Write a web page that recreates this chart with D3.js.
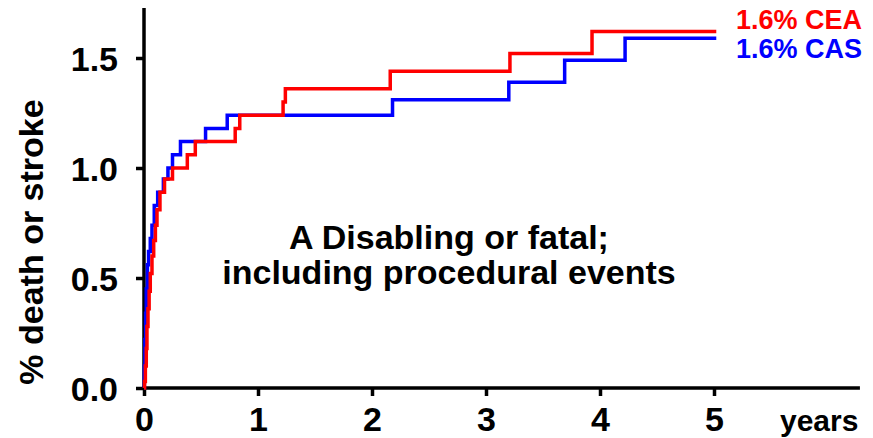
<!DOCTYPE html>
<html><head><meta charset="utf-8">
<script src="https://cdn.jsdelivr.net/npm/d3@7"></script>
<style>
body{margin:0;background:#fff;}
text{font-family:Arial,"Liberation Sans",sans-serif;font-weight:bold;}
</style></head>
<body><svg id="c" width="873" height="438"></svg>
<script>
// Data: step times (years) and cumulative % death or stroke
const ceaTimes  = [0, 0.005, 0.012, 0.02, 0.026, 0.035, 0.045, 0.055, 0.07, 0.085, 0.1, 0.114, 0.14, 0.18, 0.25, 0.38, 0.45, 0.80, 0.84, 1.22, 1.24, 2.16, 3.21, 3.93, 5.02];
const ceaValues = [0, 0.03, 0.10, 0.18, 0.28, 0.36, 0.44, 0.52, 0.60, 0.67, 0.74, 0.81, 0.89, 0.95, 1.00, 1.06, 1.12, 1.18, 1.24, 1.30, 1.36, 1.44, 1.52, 1.62, 1.62];
const casTimes  = [0, 0.003, 0.008, 0.014, 0.02, 0.03, 0.04, 0.055, 0.07, 0.09, 0.12, 0.17, 0.21, 0.25, 0.32, 0.54, 0.73, 2.18, 3.20, 3.69, 4.22, 5.02];
const casValues = [0, 0.10, 0.22, 0.34, 0.45, 0.56, 0.62, 0.68, 0.74, 0.83, 0.89, 0.95, 1.00, 1.06, 1.12, 1.18, 1.24, 1.31, 1.39, 1.49, 1.59, 1.59];
const yTicks = [0, 0.5, 1.0, 1.5];
const xTicks = [0, 1, 2, 3, 4, 5];
const legendLabels = ["1.6% CEA", "1.6% CAS"];
const colors = ["#ff0000", "#0000ff"];
const annotation = ["A Disabling or fatal;", "including procedural events"];

const svg = d3.select("#c");
const x = d3.scaleLinear().domain([0, 5]).range([144, 714]);
const y = d3.scaleLinear().domain([0, 1.5]).range([388, 58]);
const xEnd = 6.28, yEnd = 1.727;
const FONT = "Arial, 'Liberation Sans', sans-serif";

// axes lines
svg.append("line").attr("x1", x(0)).attr("x2", x(0)).attr("y1", y(0)+1.5).attr("y2", y(yEnd))
  .attr("stroke", "#000").attr("stroke-width", 3.5);
svg.append("line").attr("x1", x(0)-1.5).attr("x2", x(xEnd)).attr("y1", y(0)).attr("y2", y(0))
  .attr("stroke", "#000").attr("stroke-width", 3.5);

// y ticks
const gy = svg.append("g").attr("transform", `translate(${x(0)},0)`)
  .call(d3.axisLeft(y).tickValues(yTicks).tickFormat(d3.format(".1f")).tickSize(8).tickPadding(18));
gy.select(".domain").remove();
gy.selectAll(".tick line").attr("stroke", "#000").attr("stroke-width", 3.5);
gy.selectAll(".tick text").attr("font-size", 34).attr("fill", "#000").attr("font-family", FONT).attr("font-weight", "bold").attr("dy", "0.36em");

// x ticks
const gx = svg.append("g").attr("transform", `translate(0,${y(0)})`)
  .call(d3.axisBottom(x).tickValues(xTicks).tickFormat(d3.format("d")).tickSize(8).tickPadding(0));
gx.select(".domain").remove();
gx.selectAll(".tick line").attr("stroke", "#000").attr("stroke-width", 3.5);
gx.selectAll(".tick text").attr("font-size", 34).attr("fill", "#000").attr("font-family", FONT).attr("font-weight", "bold")
  .attr("dy", null).attr("y", 43);

svg.append("text").attr("x", 780).attr("y", y(0) + 43)
  .attr("font-size", 30).text("years");

// y label
svg.append("text").attr("transform", `translate(43,242) rotate(-90)`).attr("text-anchor", "middle")
  .attr("font-size", 34).text("% death or stroke");

// lines
const line = d3.line().x(d => x(d[0])).y(d => y(d[1])).curve(d3.curveStepAfter);
const series = [
  {t: casTimes, v: casValues, c: colors[1]},
  {t: ceaTimes, v: ceaValues, c: colors[0]}
];
series.forEach(s => {
  svg.append("path").datum(s.t.map((t, i) => [t, s.v[i]]))
    .attr("d", line).attr("fill", "none").attr("stroke", s.c).attr("stroke-width", 3.5)
    .attr("stroke-linejoin", "miter");
});

// legend labels
svg.append("text").attr("x", 736).attr("y", 29).attr("font-size", 27).attr("fill", colors[0]).text(legendLabels[0]);
svg.append("text").attr("x", 736).attr("y", 58).attr("font-size", 27).attr("fill", colors[1]).text(legendLabels[1]);

// annotation
svg.append("text").attr("x", 449).attr("y", 249).attr("text-anchor", "middle").attr("font-size", 34).text(annotation[0]);
svg.append("text").attr("x", 449).attr("y", 284).attr("text-anchor", "middle").attr("font-size", 34).text(annotation[1]);
</script></body></html>
